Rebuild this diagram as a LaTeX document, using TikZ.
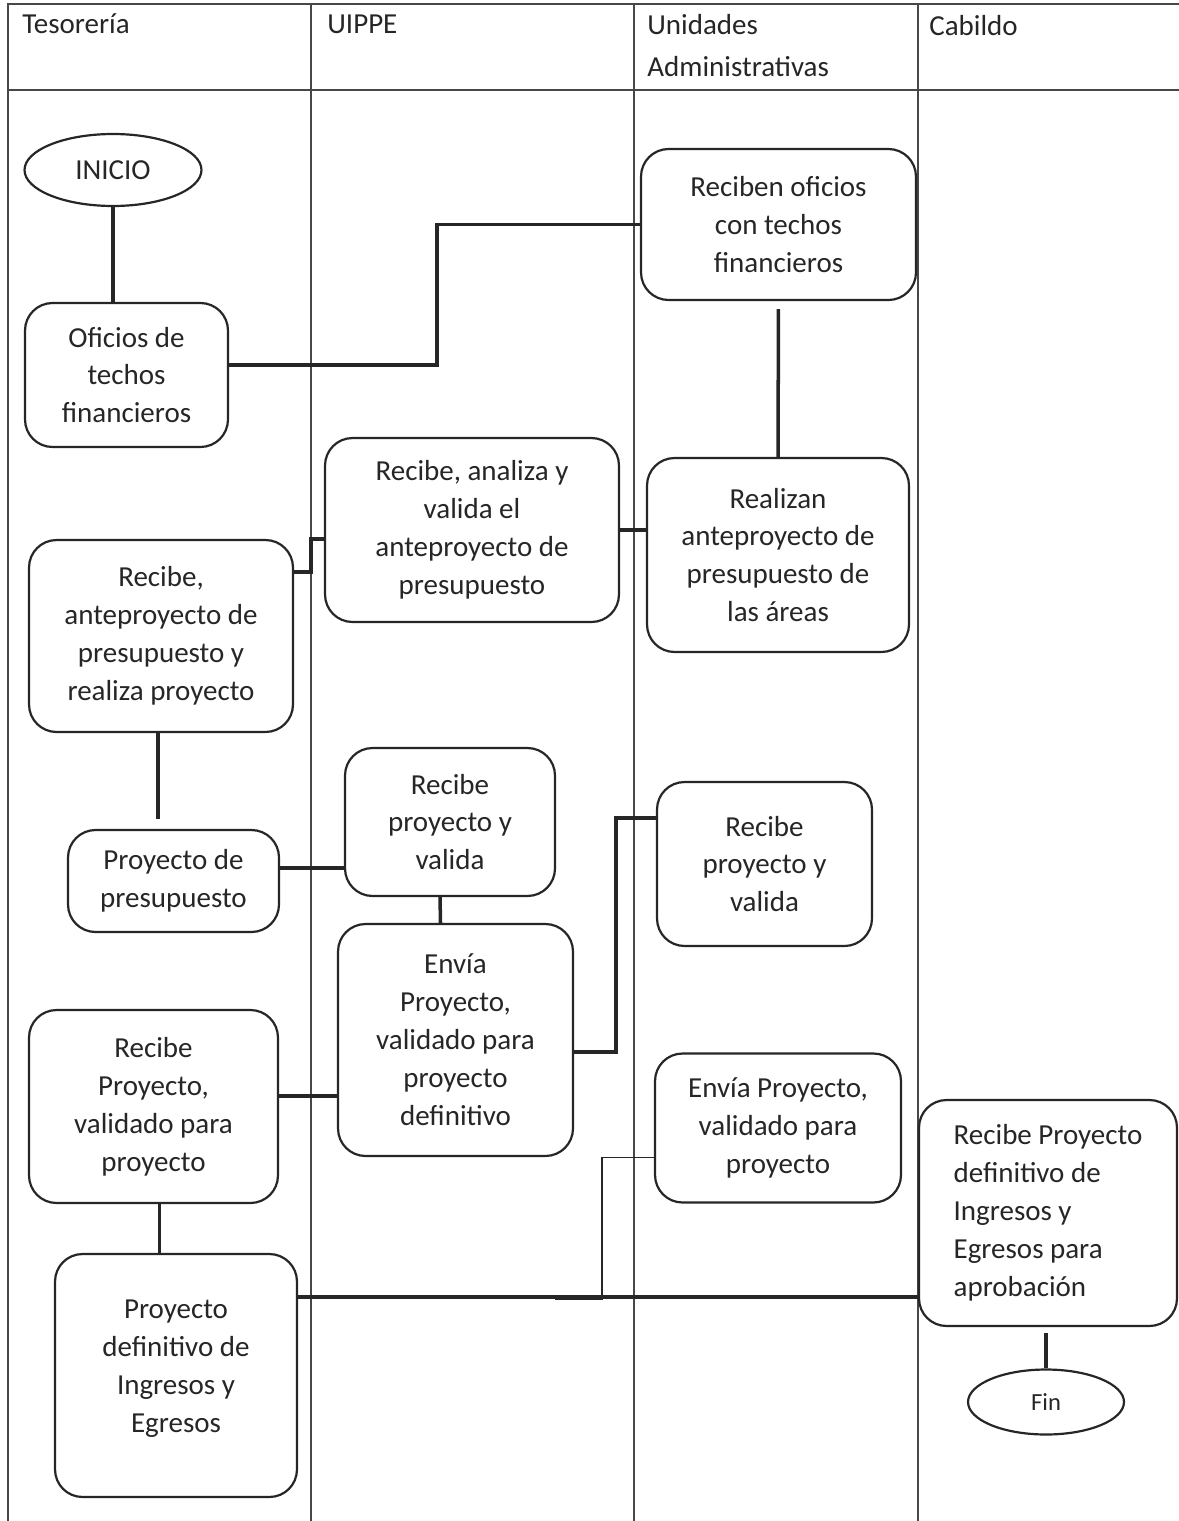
\documentclass[tikz,border=0pt]{standalone}
\usepackage{fontspec}
\setmainfont{Carlito}
\usetikzlibrary{shapes.geometric}
\definecolor{ink}{HTML}{262626}
\tikzstyle{process} = [rectangle, rounded corners=0.55cm, draw=ink, line width=1.25pt, fill=white, text=ink, align=center, inner sep=2pt, font=\fontsize{16.5pt}{21.6pt}\selectfont]
\tikzstyle{terminal} = [ellipse, draw=ink, line width=1.25pt, fill=white, text=ink, inner sep=0pt, font=\fontsize{16.5pt}{21.6pt}\selectfont]
\tikzstyle{connector} = [draw=ink, line width=2pt]
\tikzstyle{thinline} = [draw=ink, line width=0.6pt]
\tikzstyle{lane} = [draw=ink!85, line width=0.7pt]
\tikzstyle{lanetitle} = [anchor=base west, text=ink, inner sep=0pt, font=\fontsize{16.5pt}{21.6pt}\selectfont]

\begin{document}
\begin{tikzpicture}[x=0.02cm, y=-0.02cm]
    \useasboundingbox (0,0) rectangle (1179,1521);
    % Lanes
    \draw [lane] (8,1521) -- (8,4) -- (1179,4);
    \draw [lane] (8,90) -- (1179,90);
    \foreach \lx in {311, 634, 918}
        \draw [lane] (\lx,4) -- (\lx,1521);
    \node [lanetitle] (tTes) at (22,33) {Tesorería};
    \node [lanetitle] (tUippe) at (327,33) {UIPPE};
    \node [lanetitle] (tUa) at (647,34) {Unidades};
    \node [lanetitle] (tUa2) at (647,76) {Administrativas};
    \node [lanetitle] (tCab) at (929,35) {Cabildo};

    % Nodes
    \node [terminal, minimum width=3.54cm, minimum height=1.44cm] (inicio) at (113,170) {INICIO};
    \node [process, minimum width=4.06cm, minimum height=2.88cm] (oficios) at (126.5,375) {Oficios de\\techos\\financieros};
    \node [process, minimum width=5.5cm, minimum height=3.02cm] (reciben) at (778.5,224.5) {Reciben oficios\\con techos\\financieros};
    \node [process, minimum width=5.88cm, minimum height=3.68cm] (analiza) at (472,530) {Recibe, analiza y\\valida el\\anteproyecto de\\presupuesto};
    \node [process, minimum width=5.24cm, minimum height=3.88cm] (realizan) at (778,555) {Realizan\\anteproyecto de\\presupuesto de\\las áreas};
    \node [process, minimum width=5.28cm, minimum height=3.84cm] (recibeAnte) at (161,636) {Recibe,\\anteproyecto de\\presupuesto y\\realiza proyecto};
    \node [process, minimum width=4.22cm, minimum height=2.04cm] (proyPres) at (173.5,881) {Proyecto de\\presupuesto};
    \node [process, minimum width=4.2cm, minimum height=2.96cm] (recibeUippe) at (450,822) {Recibe\\proyecto y\\valida};
    \node [process, minimum width=4.7cm, minimum height=4.64cm] (enviaUippe) at (455.5,1040) {Envía\\Proyecto,\\validado para\\proyecto\\definitivo};
    \node [process, minimum width=4.3cm, minimum height=3.28cm] (recibeUa) at (764.5,864) {Recibe\\proyecto y\\valida};
    \node [process, minimum width=4.98cm, minimum height=3.86cm] (recibeTes) at (153.5,1106.5) {Recibe\\Proyecto,\\validado para\\proyecto};
    \node [process, minimum width=4.92cm, minimum height=2.98cm] (enviaUa) at (778,1128) {Envía Proyecto,\\validado para\\proyecto};
    \node [process, minimum width=4.84cm, minimum height=4.86cm] (proyDef) at (176,1375.5) {Proyecto\\definitivo de\\Ingresos y\\Egresos\\[-0.4cm]};
    \node [process, align=left, minimum width=5.16cm, minimum height=4.52cm] (recibeCab) at (1048,1213) {Recibe Proyecto\\definitivo de\\Ingresos y\\Egresos para\\aprobación};
    \node [terminal, minimum width=3.12cm, minimum height=1.3cm, font=\fontsize{14pt}{17pt}\selectfont] (fin) at (1046,1402) {Fin};

    % Connectors
    \coordinate (k1) at (311,572);
    \coordinate (k3) at (616,818);
    \coordinate (k6) at (602,1299);
    \coordinate (k7) at (555,1299);
    \coordinate (k2) at ([yshift=0.26cm]proyPres.east);
    \coordinate (k4) at ([yshift=-1.12cm]enviaUippe.west);
    \coordinate (k5) at ([yshift=1.57cm]proyDef.east);
    \path [connector] (inicio.south) -- (inicio.south |- oficios.north);
    \path [connector] ([yshift=0.2cm]oficios.east) -- ++(208,0) |- (reciben.west);
    \path [connector, shorten <=0.16cm] (reciben.south) -- (realizan.north);
    \path [connector] (realizan.west |- analiza.east) -- (analiza.east);
    \path [connector] ([yshift=-0.18cm]analiza.west) -| (k1) -- (k1 -| recibeAnte.east);
    \path [connector, shorten >=0.2cm] ([xshift=-0.06cm]recibeAnte.south) -- ([xshift=-0.06cm]recibeAnte.south |- proyPres.north);
    \path [connector] (k2) -- (k2 -| recibeUippe.west);
    \path [connector] ([xshift=-0.2cm]recibeUippe.south) -- ([xshift=-0.3cm]enviaUippe.north);
    \path [connector] ([yshift=-0.24cm]enviaUippe.east) -| (k3) -- (k3 -| recibeUa.west);
    \path [connector] (k4) -- (k4 -| recibeTes.east);
    \path [connector] ([xshift=0.12cm]recibeTes.south) -- ([xshift=0.12cm]recibeTes.south |- proyDef.north);
    \path [connector] (k5) -- (k5 -| recibeCab.west);
    \path [thinline] ([yshift=-0.59cm]enviaUa.west) -| (k6) -- (k7);
    \path [connector, shorten <=0.12cm] (fin.north |- recibeCab.south) -- (fin.north);
\end{tikzpicture}
\end{document}
